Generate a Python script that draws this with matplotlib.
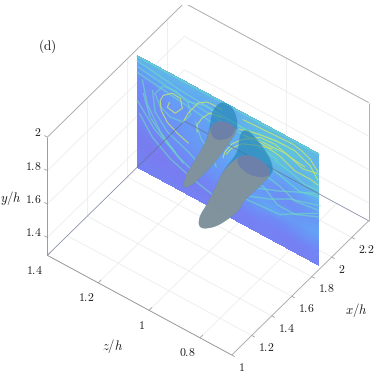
#!/usr/bin/env python3
"""Slice of the flow field at x/h = 1.9 with two structures, panel (d)."""
import numpy as np
import matplotlib
matplotlib.use("Agg")
import matplotlib.pyplot as plt
from matplotlib.colors import LinearSegmentedColormap
from mpl_toolkits.mplot3d import proj3d
from mpl_toolkits.mplot3d.art3d import Poly3DCollection

plt.rcParams["mathtext.fontset"] = "cm"

# axis ranges
x_lim = (1.0, 2.37)
z_lim = (0.675, 1.4)
y_lim = (1.293, 2.0)

x_ticks = [1, 1.2, 1.4, 1.6, 1.8, 2, 2.2]
x_labels = ["1", "1.2", "1.4", "1.6", "1.8", "2", "2.2"]
z_ticks = [1.4, 1.2, 1, 0.8]
z_labels = ["1.4", "1.2", "1", "0.8"]
y_ticks = [1.4, 1.6, 1.8, 2]
y_labels = ["1.4", "1.6", "1.8", "2"]

# slice plane
slice_x = 1.9
slice_z = (1.4, 0.686)
slice_y = (1.96, 1.293)

# coarse reading of the field on the slice, top row first, z decreasing
field = [
    [.60, .62, .62, .62, .62, .60, .60, .60, .60, .62, .65, .65, .65, .65, .65, .62],
    [.40, .50, .55, .50, .50, .50, .50, .55, .55, .60, .65, .70, .70, .70, .65, .60],
    [.30, .30, .35, .45, .40, .45, .50, .50, .55, .60, .65, .70, .70, .65, .65, .70],
    [.25, .30, .30, .40, .35, .45, .45, .50, .55, .60, .60, .65, .65, .60, .60, .70],
    [.20, .30, .30, .35, .40, .40, .45, .50, .55, .55, .55, .50, .45, .50, .55, .60],
    [.20, .25, .30, .30, .35, .40, .40, .45, .50, .50, .45, .35, .30, .35, .40, .45],
    [.15, .20, .25, .30, .30, .35, .40, .40, .45, .45, .40, .35, .30, .30, .35, .40],
    [.08, .10, .12, .20, .25, .30, .30, .35, .40, .40, .45, .50, .45, .40, .45, .50],
    [.10, .05, .05, .08, .10, .15, .20, .20, .25, .30, .30, .25, .25, .30, .35, .30],
    [.12, .12, .10, .08, .10, .10, .10, .10, .12, .12, .15, .15, .12, .12, .15, .20],
    [.15, .15, .15, .15, .15, .15, .15, .15, .15, .15, .15, .15, .15, .15, .15, .15],
]

# filaments on the slice as (z, y)
yellow_lines = [
    [(1.274, 1.784), (1.282, 1.748), (1.251, 1.738), (1.223, 1.791), (1.231, 1.844),
     (1.263, 1.848), (1.298, 1.806), (1.310, 1.766), (1.306, 1.710), (1.282, 1.658),
     (1.243, 1.626), (1.200, 1.602)],
    [(1.220, 1.711), (1.200, 1.781), (1.161, 1.873), (1.125, 1.909), (1.102, 1.911),
     (1.067, 1.910)],
    [(1.165, 1.697), (1.165, 1.739), (1.145, 1.797), (1.114, 1.853), (1.067, 1.863)],
    [(0.984, 1.919), (0.906, 1.925), (0.788, 1.934), (0.753, 1.922), (0.721, 1.900),
     (0.690, 1.850)],
    [(0.906, 1.848), (0.812, 1.855), (0.749, 1.818), (0.690, 1.838)],
    [(1.063, 1.627), (1.055, 1.670), (1.027, 1.740), (0.988, 1.797), (0.917, 1.868),
     (0.859, 1.875), (0.800, 1.847), (0.741, 1.836)],
    [(1.0, 1.85), (0.93, 1.88), (0.85, 1.90), (0.78, 1.90), (0.72, 1.86), (0.69, 1.80)],
    [(0.98, 1.83), (0.92, 1.84), (0.84, 1.82), (0.78, 1.78), (0.72, 1.78), (0.69, 1.77)],
    [(1.05, 1.66), (1.03, 1.71), (0.99, 1.77), (0.93, 1.81), (0.87, 1.84)],
]
cyan_lines = [
    [(1.4, 1.955), (1.0, 1.955), (0.686, 1.955)],
    [(1.4, 1.93), (1.23, 1.892), (1.0, 1.87), (0.85, 1.84)],
    [(1.4, 1.895), (1.23, 1.86), (1.0, 1.83), (0.85, 1.79)],
    [(1.4, 1.86), (1.3, 1.84), (1.2, 1.82), (1.05, 1.79)],
    [(0.866, 1.719), (0.812, 1.694), (0.761, 1.671), (0.686, 1.703)],
    [(0.957, 1.483), (0.878, 1.531), (0.800, 1.596), (0.682, 1.653)],
    [(0.976, 1.526), (0.898, 1.574), (0.839, 1.611), (0.772, 1.661), (0.686, 1.721)],
    [(1.376, 1.753), (1.349, 1.632), (1.282, 1.533), (1.220, 1.466)],
    [(1.4, 1.691), (1.329, 1.571), (1.251, 1.505)],
    [(1.33, 1.79), (1.30, 1.86), (1.25, 1.875), (1.20, 1.84), (1.19, 1.78), (1.22, 1.71),
     (1.27, 1.70), (1.31, 1.73), (1.33, 1.79)],
    [(1.38, 1.83), (1.36, 1.70), (1.31, 1.58), (1.24, 1.49), (1.17, 1.44)],
    [(1.39, 1.62), (1.34, 1.52), (1.27, 1.45), (1.18, 1.40), (1.10, 1.37)],
    [(1.34, 1.80), (1.33, 1.68), (1.28, 1.60), (1.20, 1.55), (1.14, 1.50)],
    [(1.17, 1.75), (1.15, 1.67), (1.12, 1.63), (1.09, 1.55)],
    [(1.20, 1.85), (1.13, 1.88), (1.05, 1.87), (0.97, 1.87), (0.90, 1.89), (0.82, 1.90)],
    [(0.86, 1.78), (0.80, 1.76), (0.74, 1.73), (0.69, 1.74)],
    [(0.95, 1.60), (0.90, 1.58), (0.85, 1.52), (0.78, 1.52), (0.69, 1.58)],
    [(0.90, 1.66), (0.84, 1.64), (0.78, 1.60), (0.69, 1.62)],
    [(1.0, 1.45), (0.92, 1.46), (0.84, 1.47), (0.75, 1.55), (0.69, 1.60)],
]

# structure outlines as (z, y)
blob1_outline = [
    (1.218, 1.335), (1.212, 1.391), (1.185, 1.483), (1.153, 1.589), (1.127, 1.681),
    (1.114, 1.781), (1.107, 1.866), (1.081, 1.938), (1.055, 1.967), (1.022, 1.958),
    (1.005, 1.892), (1.009, 1.829), (1.035, 1.747), (1.081, 1.610), (1.133, 1.477),
    (1.185, 1.363), (1.212, 1.321),
]
blob1_body = [
    (1.218, 1.335), (1.212, 1.391), (1.185, 1.483), (1.153, 1.589), (1.127, 1.681),
    (1.114, 1.762), (1.094, 1.814), (1.061, 1.849), (1.026, 1.855), (1.013, 1.836),
    (1.009, 1.829), (1.035, 1.747), (1.081, 1.610), (1.133, 1.477), (1.185, 1.363),
    (1.212, 1.321),
]
blob1_cap = [
    (1.114, 1.762), (1.094, 1.814), (1.061, 1.849), (1.026, 1.855), (1.013, 1.836),
    (1.035, 1.768), (1.081, 1.713), (1.107, 1.717),
]
blob2_outline = [
    (1.160, 1.156), (1.153, 1.211), (1.127, 1.293), (1.094, 1.420), (1.061, 1.556),
    (1.022, 1.659), (1.003, 1.725), (0.999, 1.808), (0.983, 1.861), (0.957, 1.873),
    (0.924, 1.841), (0.885, 1.793), (0.863, 1.723), (0.878, 1.670), (0.930, 1.547),
    (0.983, 1.433), (0.996, 1.372), (1.035, 1.290), (1.087, 1.196), (1.133, 1.144),
    (1.153, 1.135),
]
blob2_body = [
    (1.160, 1.156), (1.153, 1.211), (1.127, 1.293), (1.094, 1.420), (1.061, 1.556),
    (1.009, 1.670), (0.970, 1.723), (0.917, 1.737), (0.878, 1.710), (0.878, 1.670),
    (0.930, 1.547), (0.983, 1.433), (0.996, 1.372), (1.035, 1.290), (1.087, 1.196),
    (1.133, 1.144), (1.153, 1.135),
]
blob2_cap = [
    (1.009, 1.670), (0.970, 1.723), (0.917, 1.737), (0.878, 1.710), (0.878, 1.670),
    (0.917, 1.627), (0.963, 1.609), (1.003, 1.626),
]

# only these grid lines survive in the picture
grid_x_wall = [1.4, 1.8, 2.2]
grid_z_wall = [1.0]
grid_y_wall = [1.4, 1.6, 1.8]
grid_x_floor = [1.2, 1.4, 1.6, 1.8, 2, 2.2]
grid_z_floor = [1.2, 1, 0.8]

field_cmap = LinearSegmentedColormap.from_list(
    "slice", ["#7b78ee", "#7088f5", "#62a5f5", "#5fc8d8", "#a8e090"])

EDGE = "#9a9a9a"
DARK = "#808080"
GRID = "#ebebeb"
INK = "#1c1c1c"


def seg(ax, p, q, color=EDGE, lw=0.55, zorder=1):
    # p and q are (x, z, y); mpl's depth axis holds z/h and its vertical y/h
    ax.plot([p[0], q[0]], [p[1], q[1]], [p[2], q[2]], color=color, lw=lw,
            zorder=zorder, solid_capstyle="butt")


def smooth(values, factor=8):
    # bilinear shading of the coarse field, as the renderer would do per vertex
    arr = np.asarray(values)
    rows = np.linspace(0, arr.shape[0] - 1, (arr.shape[0] - 1) * factor + 1)
    cols = np.linspace(0, arr.shape[1] - 1, (arr.shape[1] - 1) * factor + 1)
    by_col = np.array([np.interp(rows, np.arange(arr.shape[0]), arr[:, j])
                       for j in range(arr.shape[1])]).T
    return np.array([np.interp(cols, np.arange(arr.shape[1]), r) for r in by_col])


def round_off(outline, passes=2):
    # corner cutting, so a read-off outline does not show its vertices
    pts = np.asarray(outline)
    for _ in range(passes):
        nxt = np.roll(pts, -1, axis=0)
        pts = np.column_stack([0.75 * pts + 0.25 * nxt, 0.25 * pts + 0.75 * nxt]).reshape(-1, 2)
    return pts


def add_poly(ax, outline, color, alpha, zorder):
    verts = [[(slice_x, z, y) for z, y in round_off(outline)]]
    poly = Poly3DCollection(verts, facecolors=color, edgecolors="none",
                            alpha=alpha, zorder=zorder)
    ax.add_collection3d(poly, autolim=False)


def label3d(ax, x, z, y, s, **kw):
    # place by the 3D projection, but as a plain 2D text of the axes
    px, py, _ = proj3d.proj_transform(x, z, y, ax.get_proj())
    ax.text2D(px, py, s, transform=ax.transData, **kw)


fig = plt.figure(figsize=(3.74, 3.74), dpi=100)
ax = fig.add_subplot(projection="3d", proj_type="ortho", computed_zorder=False)
ax.set_position([24.7 / 374, 11.7 / 374, 357 / 374, 357 / 374])
ax.set_box_aspect((1, 1, 0.75))
ax.view_init(elev=46.7, azim=-143.4)
ax.set_axis_off()
ax.set_xlim(*x_lim)
ax.set_ylim(*z_lim)
ax.set_zlim(*y_lim)

x0, x1 = x_lim
z0, z1 = z_lim
y0, y1 = y_lim

# grid on the two back walls and the floor
for v in grid_y_wall:
    seg(ax, (x0, z1, v), (x1, z1, v), GRID)
    seg(ax, (x1, z0, v), (x1, z1, v), GRID)
for v in grid_x_wall:
    seg(ax, (v, z1, y0), (v, z1, y1), GRID)
for v in grid_z_wall:
    seg(ax, (x1, v, y0), (x1, v, y1), GRID)
for v in grid_x_floor:
    seg(ax, (v, z0, y0), (v, z1, y0), GRID)
for v in grid_z_floor:
    seg(ax, (x0, v, y0), (x1, v, y0), GRID)

# slice
shade = smooth(field)
zz, yy = np.meshgrid(np.linspace(*slice_z, shade.shape[1]),
                     np.linspace(*slice_y, shade.shape[0]))
ax.plot_surface(np.full_like(zz, slice_x), zz, yy, facecolors=field_cmap(shade),
                rcount=shade.shape[0], ccount=shade.shape[1], shade=False,
                linewidth=0, antialiased=False, zorder=2)
for line in cyan_lines:
    zs, ys = zip(*line)
    ax.plot(np.full(len(zs), slice_x), zs, ys, color="#6fdcc4", lw=1.0, alpha=0.6, zorder=3)
for line in yellow_lines:
    zs, ys = zip(*line)
    ax.plot(np.full(len(zs), slice_x), zs, ys, color="#c6e46e", lw=0.75, alpha=0.9, zorder=3)

# hidden box edges show through the slice
seg(ax, (x0, z1, y0), (x1, z1, y0), "#66708a", 0.45, 4)
seg(ax, (x1, z1, y0), (x1, z0, y0), "#66708a", 0.45, 4)

# structures
add_poly(ax, blob1_outline, "#1f7fb0", 0.6, 5)
add_poly(ax, blob2_outline, "#1f7fb0", 0.6, 5)
add_poly(ax, blob1_body, "#82939c", 0.97, 6)
add_poly(ax, blob2_body, "#82939c", 0.97, 6)
add_poly(ax, blob1_cap, "#5f72b4", 0.55, 7)
add_poly(ax, blob2_cap, "#5f72b4", 0.55, 7)

# box
seg(ax, (x0, z1, y0), (x0, z1, y1), DARK, zorder=8)
seg(ax, (x0, z1, y0), (x0, z0, y0), DARK, zorder=8)
seg(ax, (x0, z0, y0), (x1, z0, y0), EDGE, zorder=8)
seg(ax, (x0, z1, y1), (x1, z1, y1), EDGE, zorder=8)
seg(ax, (x1, z1, y1), (x1, z0, y1), EDGE, zorder=8)
seg(ax, (x1, z0, y1), (x1, z0, y0), EDGE, zorder=8)

# ticks and tick labels
text_kw = dict(fontsize=8.5, color=INK, zorder=9, va="center")
for v, s in zip(y_ticks, y_labels):
    seg(ax, (x0, z1, v), (x0, z1 + 0.012, v), zorder=8)
    label3d(ax, x0, z1 + 0.0235, v + 0.008, f"${s}$", ha="right", **text_kw)
for v, s in zip(z_ticks, z_labels):
    seg(ax, (x0, v, y0), (x0 + 0.03, v, y0), zorder=8)
    label3d(ax, x0 - 0.04, v, y0 - 0.066, f"${s}$", ha="right", **text_kw)
for v, s in zip(x_ticks, x_labels):
    seg(ax, (v, z0, y0), (v, z0 - 0.012, y0), zorder=8)
    label3d(ax, v, z0 - 0.0235, y0 - 0.054, f"${s}$", ha="left", **text_kw)

fig.text(11 / 374, 1 - 198 / 374, r"$y/h$", fontsize=9.2, ha="center", va="center", color=INK)
fig.text(113 / 374, 1 - 346 / 374, r"$z/h$", fontsize=9.2, ha="center", va="center", color=INK)
fig.text(356 / 374, 1 - 310 / 374, r"$x/h$", fontsize=9.2, ha="center", va="center", color=INK)
fig.text(47 / 374, 1 - 46 / 374, r"$\mathrm{(d)}$", fontsize=9.5, ha="center", va="center", color=INK)

fig.savefig("out.png", dpi=100)
